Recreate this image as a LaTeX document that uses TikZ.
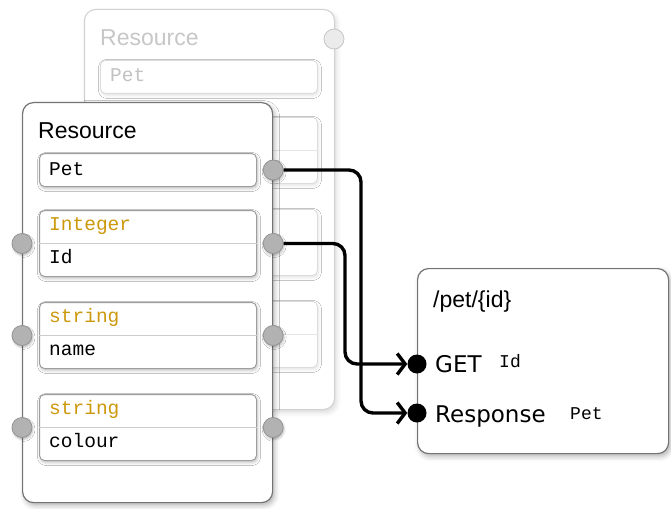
\documentclass[tikz,border=0pt]{standalone}
\usepackage{fontspec}
\setmainfont{Liberation Sans}
\setmonofont{Liberation Mono}
\newfontfamily\opfont{DejaVu Sans}
\usetikzlibrary{arrows.meta,shadows.blur}
\definecolor{typegold}{RGB}{204,152,12}
\definecolor{portgray}{RGB}{178,178,178}
\tikzset{
  softshadow/.style={blur shadow={shadow xshift=2pt,shadow yshift=-3pt,shadow blur radius=5pt,shadow opacity=30}},
  card/.style={draw=black!55, line width=1.2pt, fill=white, rounded corners=11pt,
    anchor=north west, inner sep=0pt, softshadow},
  ghostcard/.style={draw=black!18, line width=1pt, fill=white, rounded corners=11pt,
    anchor=north west, inner sep=0pt,
    blur shadow={shadow xshift=2pt,shadow yshift=-3pt,shadow blur radius=5pt,shadow opacity=15}},
  field/.style={draw=black!38, line width=1pt, fill=white, rounded corners=5pt,
    anchor=north west, inner sep=0pt, minimum width=217pt,
    blur shadow={shadow xshift=1pt,shadow yshift=-2pt,shadow blur radius=3pt,shadow opacity=25}},
  ghostfield/.style={draw=black!14, line width=0.8pt, fill=white, rounded corners=5pt,
    anchor=north west, inner sep=0pt, minimum width=217pt,
    blur shadow={shadow xshift=1pt,shadow yshift=-2pt,shadow blur radius=3pt,shadow opacity=12}},
  divider/.style={draw=black!20, line width=1pt},
  ghostdivider/.style={draw=black!10, line width=0.8pt},
  port/.style={circle, fill=portgray, draw=black!42, line width=0.8pt, minimum size=20pt, inner sep=0pt,
    blur shadow={shadow xshift=1pt,shadow yshift=-2pt,shadow blur radius=2pt,shadow opacity=25}},
  ghostport/.style={circle, fill=black!8, draw=black!22, line width=0.8pt, minimum size=20pt, inner sep=0pt},
  dot/.style={circle, fill=black, minimum size=19pt, inner sep=0pt},
  label/.style={anchor=base west, inner sep=0pt, font=\fontsize{23}{25}\selectfont},
  ghostlabel/.style={label, text=black!22},
  opname/.style={anchor=base west, inner sep=0pt, font=\opfont\fontsize{23}{25}\selectfont},
  code/.style={anchor=base west, inner sep=0pt, font=\ttfamily\fontsize{19.5}{21}\selectfont},
  typecode/.style={code, text=typegold},
  ghostcode/.style={code, text=black!24},
  smallcode/.style={anchor=base west, inner sep=0pt, font=\ttfamily\fontsize{18}{19}\selectfont},
  conn/.style={line width=3.4pt, rounded corners=12pt,
    -{Straight Barb[length=8pt,width=21pt]}},
}
\begin{document}
\begin{tikzpicture}[x=1pt,y=-1pt]
\useasboundingbox (0,0) rectangle (671,508);

% faded copy of the resource card, lying behind
\node[ghostcard, minimum width=250pt, minimum height=400pt] (back) at (84,9) {};
\node[ghostlabel] (backtitle) at (100,46) {Resource};
\node[ghostfield, minimum height=33pt] (bpet) at (100,60) {};
\node[ghostcode] (bpettext) at (110,82) {Pet};
\node[ghostfield, minimum height=66pt] (bf1) at (100,117) {};
\draw[ghostdivider] (bf1.west) -- (bf1.east);
\node[ghostfield, minimum height=66pt] (bf2) at (100,209) {};
\draw[ghostdivider] (bf2.west) -- (bf2.east);
\node[ghostfield, minimum height=66pt] (bf3) at (100,301) {};
\draw[ghostdivider] (bf3.west) -- (bf3.east);
\node[ghostport] (bport) at (334,39) {};

% resource card
\node[card, minimum width=250pt, minimum height=400pt] (front) at (22,102) {};
\node[label] (title) at (38,139) {Resource};

\node[field, minimum height=33pt] (pet) at (39,153) {};
\node[code] (pettext) at (49,175) {Pet};
\node[port] (petport) at (pet.east -| front.east) {};

\node[field, minimum height=66pt] (f1) at (39,210) {};
\draw[divider] (f1.west) -- (f1.east);
\node[typecode] (f1type) at (49,230) {Integer};
\node[code] (f1name) at (49,263) {Id};
\node[port] (f1l) at (f1.west -| front.west) {};
\node[port] (f1r) at (f1.east -| front.east) {};

\node[field, minimum height=66pt] (f2) at (39,302) {};
\draw[divider] (f2.west) -- (f2.east);
\node[typecode] (f2type) at (49,322) {string};
\node[code] (f2name) at (49,355) {name};
\node[port] (f2l) at (f2.west -| front.west) {};
\node[port] (f2r) at (f2.east -| front.east) {};

\node[field, minimum height=66pt] (f3) at (39,394) {};
\draw[divider] (f3.west) -- (f3.east);
\node[typecode] (f3type) at (49,414) {string};
\node[code] (f3name) at (49,447) {colour};
\node[port] (f3l) at (f3.west -| front.west) {};
\node[port] (f3r) at (f3.east -| front.east) {};

% endpoint card
\node[card, minimum width=251pt, minimum height=185pt] (ep) at (417,268) {};
\node[label] (eptitle) at (433,307) {/pet/\{id\}};
\node[dot] (getdot) at (417,364) {};
\node[opname] (gettext) at (435,372) {GET};
\node[smallcode] (getarg) at (499,367) {Id};
\node[dot] (respdot) at (417,413) {};
\node[opname] (resptext) at (435,422) {Response};
\node[smallcode] (resparg) at (570,419) {Pet};

% connectors
\coordinate (petbend) at (361,0);
\coordinate (idbend) at (345,0);
\draw[conn] (petport.east) -- (petport -| petbend) -- (petbend |- respdot) -- (respdot.west);
\draw[conn] (f1r.east) -- (f1r -| idbend) -- (idbend |- getdot) -- (getdot.west);
\end{tikzpicture}
\end{document}
